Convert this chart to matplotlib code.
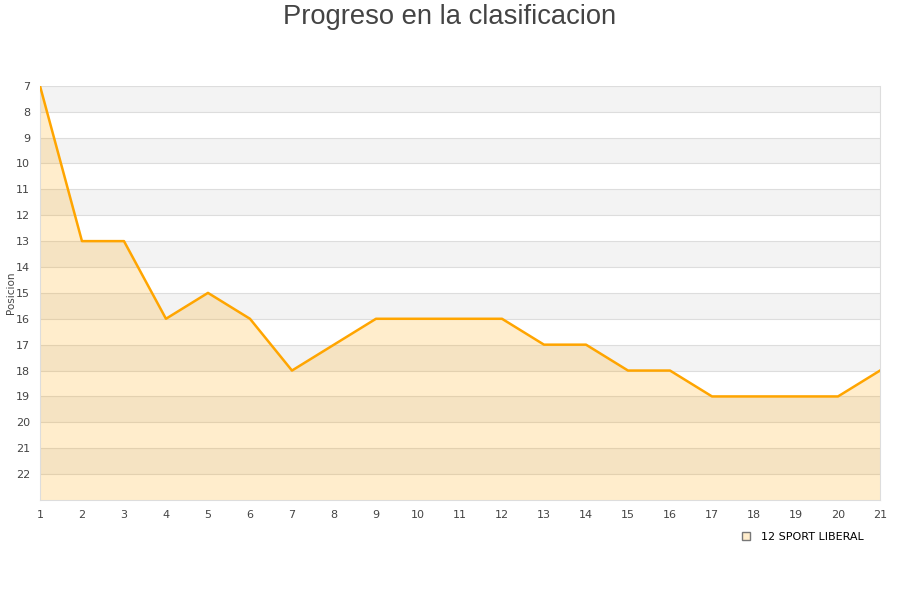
import numpy as np
import matplotlib.pyplot as plt
from matplotlib.lines import Line2D

jornadas = list(range(1, 22))
posicion = [7, 13, 13, 16, 15, 16, 18, 17, 16, 16, 16, 16, 17, 17, 18, 18, 19, 19, 19, 19, 18]
equipo = "12 SPORT LIBERAL"
y_ticks = list(range(7, 23))

ORANGE = "#FFA500"
BAND = "#F3F3F3"
GRID = "#DDDDDD"
TXT = "#444444"

fig = plt.figure(figsize=(9, 6), dpi=100)
ax = fig.add_axes([0.0444, 0.1667, 0.9334, 0.6903])

# alternating bands
for y0 in range(7, 23, 2):
    ax.axhspan(y0, y0 + 1, color=BAND, zorder=0, lw=0)
for y in range(7, 23):
    ax.axhline(y, color=GRID, lw=0.8, zorder=1)

ax.fill_between(jornadas, posicion, 23, color=ORANGE, alpha=0.2, lw=0, zorder=2)
ax.plot(jornadas, posicion, color=ORANGE, lw=1.8, zorder=3)

ax.set_xlim(1, 21)
ax.set_ylim(23, 7)
ax.set_xticks(jornadas)
ax.set_yticks(y_ticks)
ax.tick_params(length=0, labelsize=8, colors=TXT, pad=7)
ax.spines["top"].set_visible(False)
for s in ["left", "bottom", "right"]:
    ax.spines[s].set_color("#DDDDDD")
ax.set_ylabel("Posicion", fontsize=7.5, color=TXT)
ax.yaxis.set_label_coords(-0.029, 0.5)

fig.suptitle("Progreso en la clasificacion", fontsize=19.7, color=TXT, y=0.993,
             family="Liberation Sans")

leg = fig.legend(handles=[Line2D([], [], marker="s", color="none", markerfacecolor="#FFEDCC",
                                 markeredgecolor="#777777", markersize=6, label=equipo)],
                 loc="center", bbox_to_anchor=(0.888, 0.105), frameon=False, fontsize=8,
                 handletextpad=0.3)

fig.savefig("out.png", dpi=100)
